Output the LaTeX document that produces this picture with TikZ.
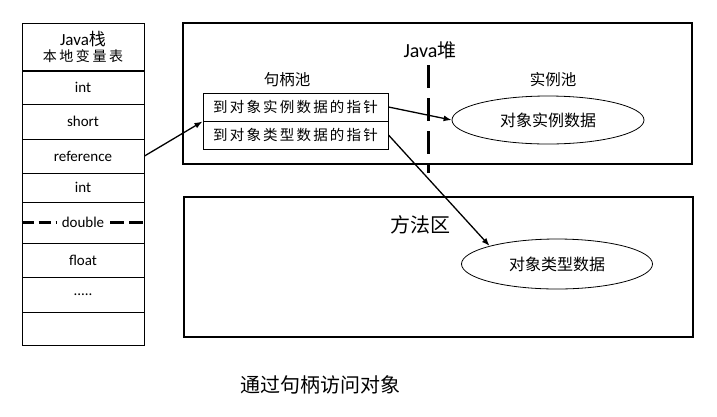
\documentclass[tikz,border=0pt]{standalone}
\usepackage{fontspec}
\setmainfont{Carlito}
\newfontfamily\cjk{Noto Sans CJK SC}
\newfontfamily\cjks[LetterSpace=18]{Noto Sans CJK SC}
\newfontfamily\cjkt[LetterSpace=15]{Noto Sans CJK SC}
\usetikzlibrary{shapes.geometric, arrows.meta}

\tikzset{
  cell/.style={draw, line width=1pt, minimum width=122pt, inner sep=0pt, font=\fontsize{15}{17}\selectfont},
  area/.style={draw, line width=1.2pt},
  slot/.style={draw, line width=1pt, minimum width=185pt, minimum height=28pt, inner sep=0pt, font=\fontsize{14.5}{16}\selectfont\cjkt},
  pool/.style={draw, ellipse, line width=0.8pt, inner sep=0pt, font=\fontsize{16}{17}\selectfont\cjk},
  lbl/.style={inner sep=0pt, font=\fontsize{15.5}{17}\selectfont\cjk},
  ptr/.style={-{Latex[length=8pt,width=6pt]}, line width=1.3pt},
}

\begin{document}
\begin{tikzpicture}[x=1pt, y=-1pt]
  \useasboundingbox (0,0) rectangle (717,416);
  % Java stack
  \node[cell, minimum height=48pt, align=center] (hdr) at (83,47)
    {{\fontsize{17}{19}\selectfont Java{\cjk 栈}}\\[-1pt]{\fontsize{14}{17}\selectfont\cjks 本地变量表}};
  \foreach \nm/\yc/\hh/\txt in {int1/87.5/33.5/int, short/121.5/35/short, ref/156/34/reference,
      int2/187.5/29/int, dbl/222.5/41/, flt/260/34/float, last/328.5/33/}
    \node[cell, minimum height=\hh pt] (\nm) at (83,\yc) {\txt};
  \node[cell, minimum height=35pt] (more) at (83,294.5) {.....};
  \node[inner sep=6pt, font=\fontsize{15}{17}\selectfont] (dbltxt) at (dbl.center) {double};
  \draw[line width=2.5pt, dash pattern=on 12pt off 5pt] (dbl.west) -- (dbltxt.west);
  \draw[line width=2.5pt, dash pattern=on 14pt off 5pt] (dbltxt.east) -- (dbl.east);
  % Java heap
  \draw[area] (183,23) rectangle (692,164);
  \node[lbl, font=\fontsize{20}{22}\selectfont] (heap) at (430,50) {Java{\cjk\fontsize{19}{22}\selectfont 堆}};
  \coordinate (cut1) at (428,65);
  \coordinate (cut2) at (428,173);
  \draw[line width=3pt, dash pattern=on 23pt off 10pt] (cut1) -- (cut2);
  \node[lbl] (hpool) at (287,80) {句柄池};
  \node[lbl] (ipool) at (553,80) {实例池};
  \node[slot] (h1) at (295.5,107) {到对象实例数据的指针};
  \node[slot] (h2) at (295.5,135) {到对象类型数据的指针};
  \node[pool, minimum width=192pt, minimum height=48pt] (inst) at (548,120) {对象实例数据};
  % Method area
  \draw[area] (184,197) rectangle (693,337);
  \node[lbl, font=\fontsize{20}{22}\selectfont\cjk] (meth) at (420,225) {方法区};
  \node[pool, minimum width=191pt, minimum height=50pt] (type) at (557,264) {对象类型数据};
  % Pointers
  \draw[ptr] (ref.east) -- (h1.south west);
  \draw[ptr] (h1.east) -- (inst.west);
  \draw[ptr] (h2.east) -- (type.165);
  % Caption
  \node[lbl, font=\fontsize{20}{22}\selectfont\cjk] (cap) at (320,385) {通过句柄访问对象};
\end{tikzpicture}
\end{document}
